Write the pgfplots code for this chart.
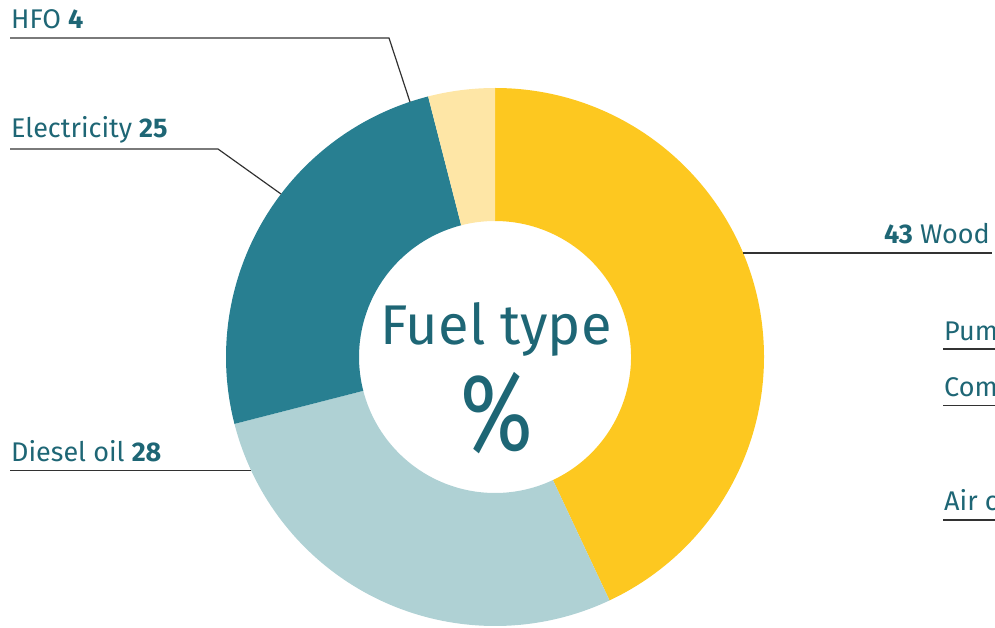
\documentclass[border=0pt]{standalone}
\usepackage{pgfplots}
\pgfplotsset{compat=1.18}
\usepackage{pgfplotstable}
\usepackage{fontspec}
\setmainfont{Fira Sans}
\usetikzlibrary{calc}
\definecolor{wood}{RGB}{253,200,32}
\definecolor{diesel}{RGB}{175,209,212}
\definecolor{elec}{RGB}{40,127,145}
\definecolor{hfo}{RGB}{254,230,166}
\definecolor{txt}{RGB}{30,102,117}
\definecolor{lead}{RGB}{50,50,50}

% share of each fuel, in %, clockwise from 12 o'clock
\pgfplotstableread{
label value col
Wood 43 wood
Diesel 28 diesel
Electricity 25 elec
HFO 4 hfo
}\fueldata

\begin{document}
\begin{tikzpicture}
\begin{axis}[
    x=1pt, y=1pt, scale only axis, hide axis,
    xmin=0, xmax=995, ymin=0, ymax=627]
\pgfplotstablegetrowsof{\fueldata}
\pgfmathtruncatemacro\nrows{\pgfplotsretval-1}
\def\startang{90}
\pgfplotsforeachungrouped \i in {0,...,\nrows}{
  \pgfplotstablegetelem{\i}{value}\of\fueldata \let\val\pgfplotsretval
  \pgfplotstablegetelem{\i}{col}\of\fueldata \let\col\pgfplotsretval
  \pgfmathsetmacro\endang{\startang-3.6*\val}
  \edef\temp{\noexpand\fill[\col] ($(axis cs:495,270)+(\startang:269pt)$)
    arc[start angle=\startang, end angle=\endang, radius=269pt]
    -- ($(axis cs:495,270)+(\endang:136pt)$)
    arc[start angle=\endang, end angle=\startang, radius=136pt] -- cycle;}
  \temp
  \global\let\startang\endang
}
% centre text
\node[txt, anchor=base, font=\fontsize{56}{56}\selectfont] at (axis cs:496,282) {Fuel type};
\node[txt, xscale=0.8, font=\fontsize{110}{110}\selectfont] at (axis cs:497,214) {\%};
% labels and leader lines
\begin{scope}[txt, font=\fontsize{27}{27}\selectfont]
\node[anchor=base west, inner sep=0] at (axis cs:11,598.5) {HFO \textbf{4}};
\node[anchor=base west, inner sep=0] at (axis cs:11,489) {Electricity \textbf{25}};
\node[anchor=base west, inner sep=0] at (axis cs:11,166) {Diesel oil \textbf{28}};
\node[anchor=base east, inner sep=0] at (axis cs:990,383) {\textbf{43} Wood};
\node[anchor=base west, inner sep=0] at (axis cs:944,287) {Pumps};
\node[anchor=base west, inner sep=0] at (axis cs:944,231) {Compressors};
\node[anchor=base west, inner sep=0] at (axis cs:944,117) {Air conditioning};
\end{scope}
\begin{scope}[lead, line width=1.2pt]
\draw (axis cs:10,589) -- (axis cs:389,589) -- (axis cs:410,525);
\draw (axis cs:10,478) -- (axis cs:218,478) -- (axis cs:281,433);
\draw (axis cs:10,156.3) -- (axis cs:251,156.3);
\draw (axis cs:743,374) -- (axis cs:992,374);
\draw (axis cs:943,278) -- (axis cs:995,278);
\draw (axis cs:943,221.3) -- (axis cs:995,221.3);
\draw (axis cs:943,107) -- (axis cs:995,107);
\end{scope}
\end{axis}
\pgfresetboundingbox
\path[use as bounding box] (current axis.south west) rectangle (current axis.north east);
\end{tikzpicture}
\end{document}
